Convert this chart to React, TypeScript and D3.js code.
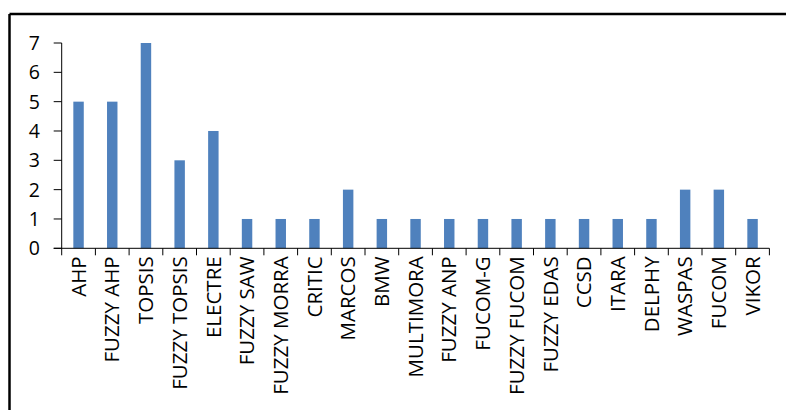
import React from "react";
import * as d3 from "d3";

// Number of studies using each MCDM method
const methods: string[] = [
  "AHP", "FUZZY AHP", "TOPSIS", "FUZZY TOPSIS", "ELECTRE", "FUZZY SAW",
  "FUZZY MORRA", "CRITIC", "MARCOS", "BMW", "MULTIMORA", "FUZZY ANP",
  "FUCOM-G", "FUZZY FUCOM", "FUZZY EDAS", "CCSD", "ITARA", "DELPHY",
  "WASPAS", "FUCOM", "VIKOR",
];
const counts: number[] = [5, 5, 7, 3, 4, 1, 1, 1, 2, 1, 1, 1, 1, 1, 1, 1, 1, 1, 2, 2, 1];
const yTicks: number[] = [0, 1, 2, 3, 4, 5, 6, 7];

const W = 786;
const H = 410;
const plot = { left: 61.7, right: 769.4, top: 43, bottom: 248.3 };
const FONT = "'Open Sans', 'DejaVu Sans', sans-serif";

export default function App() {
  const x = d3
    .scaleBand<string>()
    .domain(methods)
    .range([plot.left, plot.right])
    .paddingInner(0.69)
    .paddingOuter(0.345);
  const band = d3.scaleBand<string>().domain(methods).range([plot.left, plot.right]);
  const y = d3.scaleLinear().domain([0, 7]).range([plot.bottom, plot.top]);

  const boundaries = methods.map((m) => band(m)!).concat([plot.right]);

  return (
    <svg
      width={W}
      height={H}
      style={{ position: "absolute", left: 0, top: 0, display: "block", background: "#fff" }}
    >
      {/* chart frame */}
      <line x1={9.5} y1={14} x2={W} y2={14} stroke="#000" strokeWidth={2.5} />
      <line x1={9.5} y1={14} x2={9.5} y2={H} stroke="#000" strokeWidth={2.5} />

      {/* bars */}
      {methods.map((m, i) => (
        <rect
          key={m}
          x={x(m)}
          y={y(counts[i])}
          width={x.bandwidth()}
          height={y(0) - y(counts[i])}
          fill="#4F81BD"
        />
      ))}

      {/* y axis */}
      <line x1={plot.left} y1={plot.top} x2={plot.left} y2={plot.bottom} stroke="#000" strokeWidth={1} />
      {yTicks.map((t) => (
        <g key={t}>
          <line x1={plot.left - 8} x2={plot.left} y1={y(t)} y2={y(t)} stroke="#000" strokeWidth={1} />
          <text
            x={40}
            y={y(t)}
            dy="0.36em"
            textAnchor="end"
            fontFamily={FONT}
            fontSize={19.5}
            fill="#000"
          >
            {t}
          </text>
        </g>
      ))}

      {/* x axis */}
      <line x1={plot.left - 8} y1={plot.bottom} x2={plot.right} y2={plot.bottom} stroke="#000" strokeWidth={1} />
      {boundaries.map((bx, i) => (
        <line key={i} x1={bx} x2={bx} y1={plot.bottom} y2={plot.bottom + 7} stroke="#000" strokeWidth={1} />
      ))}
      {methods.map((m) => (
        <text
          key={m}
          transform={`translate(${band(m)! + band.bandwidth() / 2},${plot.bottom + 8}) rotate(-90)`}
          dy="0.35em"
          textAnchor="end"
          fontFamily={FONT}
          fontSize={20.5}
          fill="#000"
        >
          {m}
        </text>
      ))}
    </svg>
  );
}
